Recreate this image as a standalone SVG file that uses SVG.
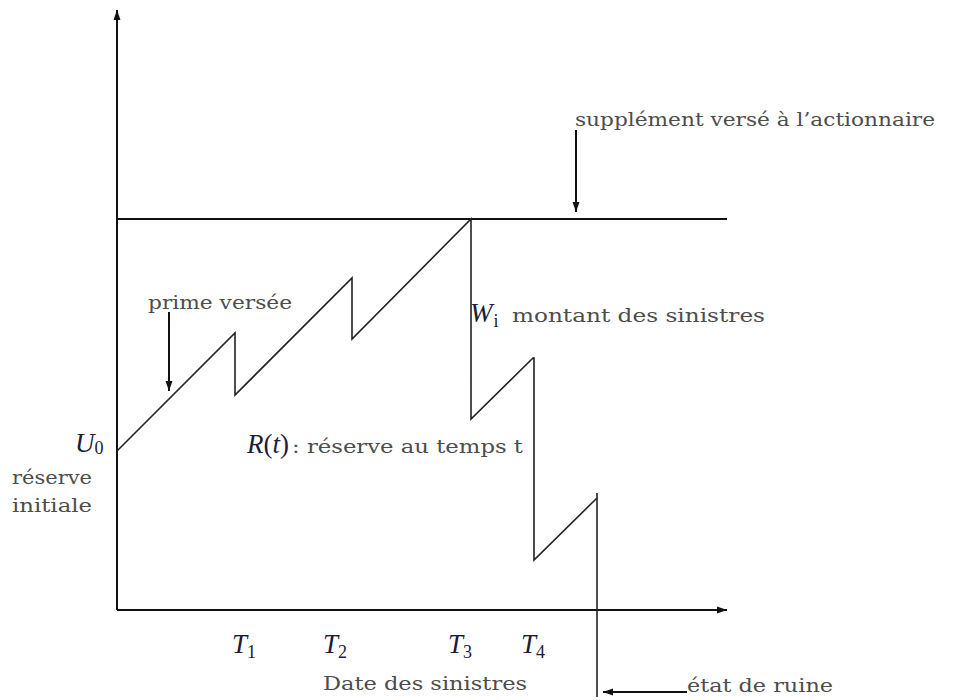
<svg xmlns="http://www.w3.org/2000/svg" width="954" height="700" viewBox="0 0 954 700">
<style>
.ln{stroke:#111;stroke-width:2;fill:none}
.cv{stroke:#222;stroke-width:1.6;fill:none;stroke-linejoin:miter}
.tx{font-family:"DejaVu Serif","Liberation Serif",serif;font-size:19px;fill:#4d4d4d}
.mt{font-family:"Liberation Serif","DejaVu Serif",serif;font-style:italic;font-size:27px;fill:#1c1c3a}
.sb{font-family:"Liberation Serif","DejaVu Serif",serif;font-style:normal;font-size:18px;fill:#1c1c3a}
.rm{font-family:"Liberation Serif","DejaVu Serif",serif;font-style:normal;fill:#1c1c3a}
</style>
<defs>
<marker id="ah" viewBox="0 0 10 10" refX="10" refY="5" markerWidth="10" markerHeight="10" markerUnits="userSpaceOnUse" orient="auto">
<path d="M0,1.5 L10,5 L0,8.5 Z" fill="#111"/>
</marker>
</defs>
<g id="axes">
<line class="ln" x1="117" y1="610" x2="117" y2="10" marker-end="url(#ah)"/>
<line class="ln" x1="117" y1="610" x2="727" y2="610" marker-end="url(#ah)"/>
<line class="ln" x1="117" y1="219" x2="727" y2="219"/>
</g>
<g id="reserve-curve">
<polyline class="cv" points="117,451 235,333 235,395 352,278 352,339 471,219 471,419 533,358 534,358 534,560 597,498"/>
<line class="cv" x1="597" y1="493" x2="597" y2="697"/>
</g>
<g id="connectors">
<line class="ln" x1="576" y1="130" x2="576" y2="212" stroke-width="1.6" marker-end="url(#ah)"/>
<line class="ln" x1="169" y1="312" x2="169" y2="391" stroke-width="1.6" marker-end="url(#ah)"/>
<line class="ln" x1="687" y1="692" x2="603" y2="692" stroke-width="1.6" marker-end="url(#ah)"/>
</g>
<g id="labels">
<text class="tx" x="575" y="126" textLength="360" lengthAdjust="spacingAndGlyphs">supplément versé à l’actionnaire</text>
<text class="tx" x="148" y="309" textLength="144" lengthAdjust="spacingAndGlyphs">prime versée</text>
<text class="mt" x="470" y="322">W<tspan class="sb" dx="1" dy="5" font-size="17">i</tspan></text>
<text class="tx" x="512" y="322" textLength="253" lengthAdjust="spacingAndGlyphs">montant des sinistres</text>
<text class="mt" x="75" y="452">U<tspan class="sb" dx="0" dy="2" font-size="20">0</tspan></text>
<text class="tx" x="12" y="484" textLength="80" lengthAdjust="spacingAndGlyphs">réserve</text>
<text class="tx" x="12" y="512" textLength="80" lengthAdjust="spacingAndGlyphs">initiale</text>
<text class="mt" x="247" y="453">R<tspan class="rm">(</tspan>t<tspan class="rm">)</tspan></text>
<text class="tx" x="292" y="453" textLength="231" lengthAdjust="spacingAndGlyphs">: réserve au temps t</text>
<text class="mt" x="232" y="653">T<tspan class="sb" dx="0" dy="5">1</tspan></text>
<text class="mt" x="323" y="653">T<tspan class="sb" dx="0" dy="5">2</tspan></text>
<text class="mt" x="448" y="653">T<tspan class="sb" dx="0" dy="5">3</tspan></text>
<text class="mt" x="521" y="653">T<tspan class="sb" dx="0" dy="5">4</tspan></text>
<text class="tx" x="323" y="690" textLength="204" lengthAdjust="spacingAndGlyphs">Date des sinistres</text>
<text class="tx" x="687" y="692" textLength="146" lengthAdjust="spacingAndGlyphs">état de ruine</text>
</g>
</svg>
